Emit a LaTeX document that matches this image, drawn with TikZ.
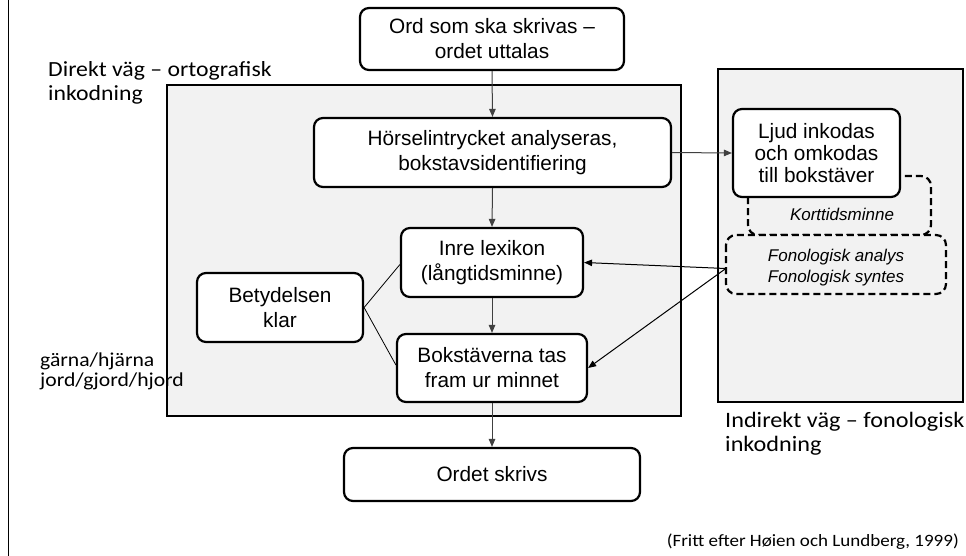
\documentclass[tikz,border=0pt]{standalone}
\usepackage{fontspec}
\setmainfont{Liberation Sans}
\newfontfamily\calfont{Carlito}[FakeStretch=1.1]
\usetikzlibrary{arrows.meta,calc}
\definecolor{panel}{HTML}{F2F2F2}
\definecolor{arrowgray}{HTML}{404040}
\tikzset{
  rbox/.style={draw=black, line width=2.2pt, rounded corners=9pt, fill=white, align=center,
    inner sep=0pt, font=\fontsize{20.8}{25}\selectfont},
  panelbox/.style={draw=black, line width=2.2pt, fill=panel},
  dbox/.style={draw=black, line width=2.2pt, rounded corners=10pt, dash pattern=on 7pt off 4pt},
  flow/.style={draw=arrowgray, line width=1pt, -{Triangle[length=8pt,width=6.5pt]}},
  plain/.style={draw=black, line width=0.8pt},
  callabel/.style={anchor=base west, inner sep=0pt, font=\calfont\fontsize{21.6}{24}\selectfont},
}
\begin{document}
\begin{tikzpicture}[x=1pt,y=-1pt]
\clip (0,0) rectangle (966,555);
\fill[white] (0,0) rectangle (966,555);
% left page border line
\draw[line width=1.5pt] (8.5,-2) -- (8.5,557);
% panels
\path[panelbox] (167,85) rectangle (681,416);
\path[panelbox] (718,69) rectangle (963,402);
% dashed short-term memory regions
\path[dbox] (748,176) rectangle (931,235);
\node[font=\itshape\fontsize{17}{20}\selectfont, inner sep=0pt] (kort) at (842,214) {Korttidsminne};
\path[dbox, fill=panel] (726,235) rectangle (946,294);
\node[minimum width=220pt, minimum height=59pt, inner sep=0pt] (fono) at (836,264.5) {};
\node[font=\itshape\fontsize{17}{21}\selectfont, align=center, inner sep=0pt] (fonotext) at (836,268) {Fonologisk analys\\Fonologisk syntes};
% boxes
\node[rbox, minimum width=264pt, minimum height=62pt] (top) at (492,39) {Ord som ska skrivas –\\ordet uttalas};
\node[rbox, minimum width=357pt, minimum height=69pt] (hors) at (492.5,152.5) {Hörselintrycket analyseras,\\bokstavsidentifiering};
\node[rbox, minimum width=167pt, minimum height=88pt, font=\fontsize{20.8}{22}\selectfont] (ljud) at (816.5,153) {Ljud inkodas\\och omkodas\\till bokstäver};
\node[rbox, minimum width=182pt, minimum height=69pt] (inre) at (492,262.5) {Inre lexikon\\(långtidsminne)};
\node[rbox, minimum width=166pt, minimum height=69pt] (bet) at (280,307.5) {Betydelsen\\klar};
\node[rbox, minimum width=190pt, minimum height=68pt] (bok) at (492,368) {Bokstäverna tas\\fram ur minnet};
\node[rbox, minimum width=296pt, minimum height=53pt] (ordet) at (492,474.5) {Ordet skrivs};
% connectors
\draw[flow] (top.south) -- (hors.north);
\draw[flow] (hors.south) -- (inre.north);
\draw[flow] (inre.south) -- (bok.north);
\draw[flow] (bok.south) -- (ordet.north);
\draw[flow] (hors.east) -- (ljud.west);
\coordinate (fonoout) at ($(fono.west)+(0,4)$);
\draw[flow, draw=black] (fonoout) -- (inre.east);
\draw[flow, draw=black] (fonoout) -- (bok.east);
\draw[plain] (bet.east) -- ($(inre.west)+(0,2)$);
\draw[plain] (bet.east) -- ($(bok.west)+(0,-3)$);
% labels
\node[callabel] (direkt1) at (48,76) {Direkt väg – ortografisk};
\node[callabel] (direkt2) at (48,100) {inkodning};
\node[callabel, font=\calfont\fontsize{19.7}{20}\selectfont] (ex1) at (40,366) {gärna/hjärna};
\node[callabel, font=\calfont\fontsize{19.7}{20}\selectfont] (ex2) at (40,386) {jord/gjord/hjord};
\node[callabel, font=\calfont\fontsize{22}{24}\selectfont] (indirekt1) at (725,427) {Indirekt väg – fonologisk};
\node[callabel, font=\calfont\fontsize{22}{24}\selectfont] (indirekt2) at (725,451) {inkodning};
\node[anchor=base east, inner sep=0pt, font=\calfont\fontsize{17.3}{22}\selectfont] (cite) at (959,546) {(Fritt efter Høien och Lundberg, 1999)};
\end{tikzpicture}
\end{document}
